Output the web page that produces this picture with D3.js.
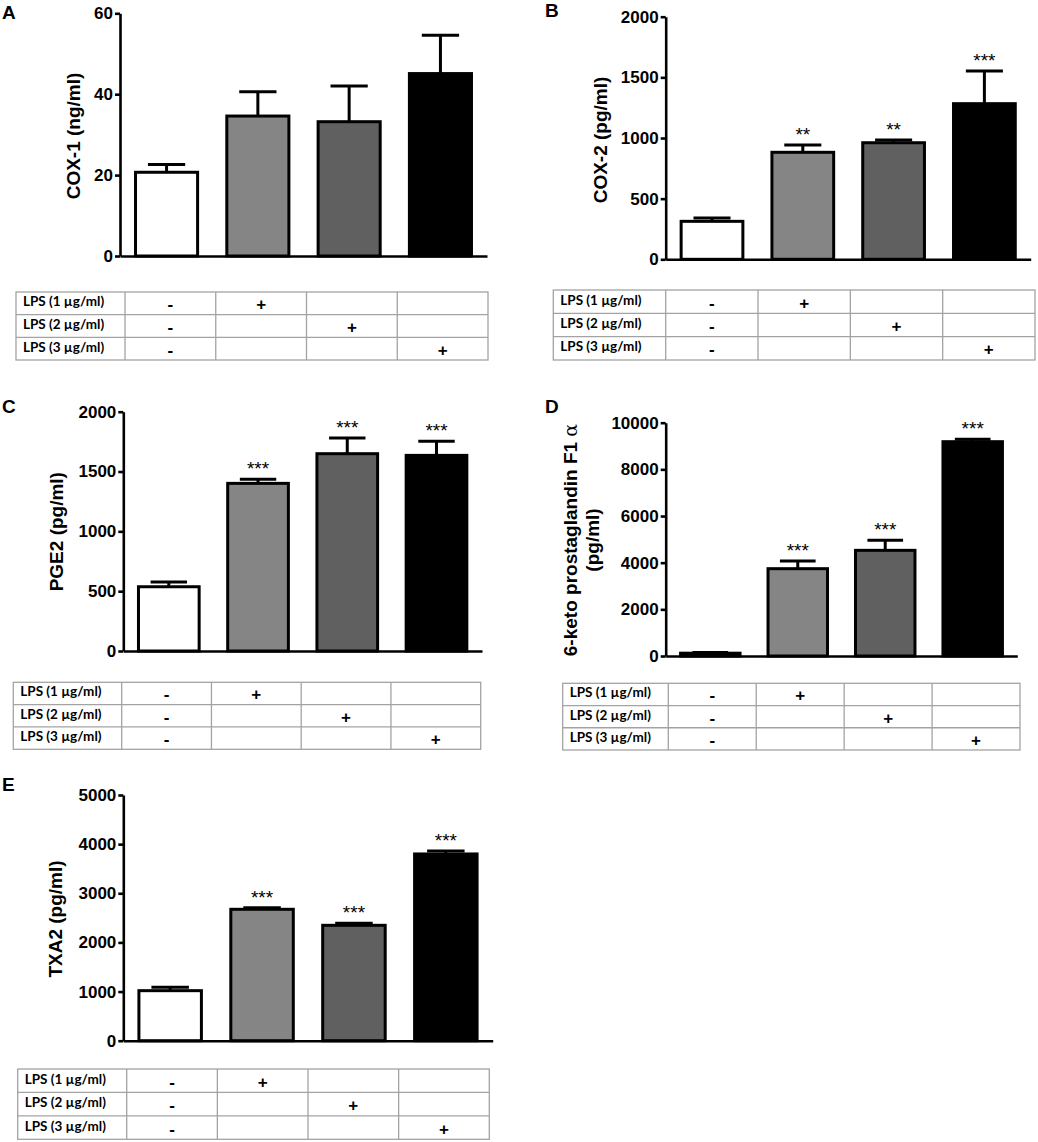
<!DOCTYPE html>
<html>
<head>
<meta charset="utf-8">
<script src="https://cdn.jsdelivr.net/npm/d3@7"></script>
<style>
  body { margin: 0; background: #fff; }
  svg { display: block; }
  .tick text { font-family: "Liberation Sans", Arial, sans-serif; font-weight: bold; font-size: 17px; fill: #000; }
</style>
</head>
<body>
<div id="chart"></div>
<script>
// groups along the x axis (one bar each)
const groups = ["ctrl", "lps1", "lps2", "lps3"];

// values (mean and upper error)
const cox1Mean = [20.7, 34.6, 33.2, 45.1];
const cox1Err = [1.9, 6.0, 8.8, 9.5];
const cox1Stars = ["", "", "", ""];
const cox1Ticks = [0, 20, 40, 60];

const cox2Mean = [313, 882, 961, 1283];
const cox2Err = [27, 60, 22, 269];
const cox2Stars = ["", "**", "**", "***"];
const cox2Ticks = [0, 500, 1000, 1500, 2000];

const pge2Mean = [537, 1401, 1649, 1635];
const pge2Err = [40, 34, 131, 117];
const pge2Stars = ["", "***", "***", "***"];
const pge2Ticks = [0, 500, 1000, 1500, 2000];

const ketoMean = [120, 3743, 4529, 9186];
const ketoErr = [25, 328, 428, 100];
const ketoStars = ["", "***", "***", "***"];
const ketoTicks = [0, 2000, 4000, 6000, 8000, 10000];

const txa2Mean = [1018, 2674, 2348, 3800];
const txa2Err = [68, 33, 41, 61];
const txa2Stars = ["", "***", "***", "***"];
const txa2Ticks = [0, 1000, 2000, 3000, 4000, 5000];

// treatment table under every panel
const rowLabels = ["LPS (1 \u00b5g/ml)", "LPS (2 \u00b5g/ml)", "LPS (3 \u00b5g/ml)"];
const tableSigns = [
  ["-", "+", "", ""],
  ["-", "", "+", ""],
  ["-", "", "", "+"]
];

const barFills = ["#ffffff", "#858585", "#606060", "#000000"];

// panel layout: axis box + table box, in page pixels
const panels = [
  {letter: "A", lx: 2, ly: 18.5, mean: cox1Mean, err: cox1Err, stars: cox1Stars, ticks: cox1Ticks,
   label: ["COX-1 (ng/ml)"], labX: 73, labY: 136,
   x0: 120, x1: 487, yTop: 13.3, yZero: 256,
   tLeft: 16, tCol: 125, tRight: 488, tTop: 292, tBottom: 360},
  {letter: "B", lx: 545, ly: 16.7, mean: cox2Mean, err: cox2Err, stars: cox2Stars, ticks: cox2Ticks,
   label: ["COX-2 (pg/ml)"], labX: 600, labY: 140,
   x0: 665.7, x1: 1030.7, yTop: 16.7, yZero: 259.3,
   tLeft: 553.3, tCol: 665.7, tRight: 1035, tTop: 290, tBottom: 360},
  {letter: "C", lx: 2, ly: 413, mean: pge2Mean, err: pge2Err, stars: pge2Stars, ticks: pge2Ticks,
   label: ["PGE2 (pg/ml)"], labX: 56.7, labY: 531.7,
   x0: 123.3, x1: 482, yTop: 411.7, yZero: 651,
   tLeft: 13.3, tCol: 121.7, tRight: 480.7, tTop: 682.3, tBottom: 749.3},
  {letter: "D", lx: 545, ly: 413, mean: ketoMean, err: ketoErr, stars: ketoStars, ticks: ketoTicks,
   label: ["6-keto prostaglandin F1 ", "(pg/ml)"], alpha: true, labX: 570, labY: 540,
   x0: 665.7, x1: 1017.3, yTop: 422.7, yZero: 656,
   tLeft: 562.7, tCol: 668.3, tRight: 1020, tTop: 683.3, tBottom: 750},
  {letter: "E", lx: 2, ly: 790.7, mean: txa2Mean, err: txa2Err, stars: txa2Stars, ticks: txa2Ticks,
   label: ["TXA2 (pg/ml)"], labX: 55, labY: 919,
   x0: 123.3, x1: 492.7, yTop: 795, yZero: 1040.7,
   tLeft: 17.7, tCol: 126.7, tRight: 489.3, tTop: 1069, tBottom: 1139.3}
];

const svg = d3.select("#chart").append("svg")
    .attr("width", 1038)
    .attr("height", 1142)

panels.forEach(function(p) {
  const g = svg.append("g")

  const x = d3.scaleBand()
      .domain(groups)
      .range([p.x0, p.x1])
      .paddingInner(0.32)
      .paddingOuter(0.17)

  const y = d3.scaleLinear()
      .domain([0, d3.max(p.ticks)])
      .range([p.yZero, p.yTop])

  // panel letter
  g.append("text")
      .attr("x", p.lx)
      .attr("y", p.ly)
      .style("font-family", "Liberation Sans, Arial, sans-serif")
      .style("font-weight", "bold")
      .style("font-size", "19px")
      .text(p.letter)

  // bars
  const rows = groups.map(function(k, i) {
    return {key: k, mean: p.mean[i], err: p.err[i], star: p.stars[i], fill: barFills[i]}
  })

  g.selectAll("rect.bar")
      .data(rows)
      .enter().append("rect")
      .attr("class", "bar")
      .attr("x", function(d) {return x(d.key)})
      .attr("width", x.bandwidth())
      .attr("y", function(d) {return y(d.mean)})
      .attr("height", function(d) {return y(0) - y(d.mean)})
      .style("fill", function(d) {return d.fill})
      .style("stroke", "#000")
      .style("stroke-width", 3)

  // upper error bars
  const cap = x.bandwidth() * 0.3
  const eb = g.selectAll("g.err")
      .data(rows)
      .enter().append("g")
      .attr("class", "err")
  eb.append("line")
      .attr("x1", function(d) {return x(d.key) + x.bandwidth() / 2})
      .attr("x2", function(d) {return x(d.key) + x.bandwidth() / 2})
      .attr("y1", function(d) {return y(d.mean)})
      .attr("y2", function(d) {return y(d.mean + d.err)})
      .style("stroke", "#000")
      .style("stroke-width", 3)
  eb.append("line")
      .attr("x1", function(d) {return x(d.key) + x.bandwidth() / 2 - cap})
      .attr("x2", function(d) {return x(d.key) + x.bandwidth() / 2 + cap})
      .attr("y1", function(d) {return y(d.mean + d.err)})
      .attr("y2", function(d) {return y(d.mean + d.err)})
      .style("stroke", "#000")
      .style("stroke-width", 3)

  // significance stars
  g.selectAll("text.star")
      .data(rows)
      .enter().append("text")
      .attr("class", "star")
      .attr("x", function(d) {return x(d.key) + x.bandwidth() / 2})
      .attr("y", function(d) {return y(d.mean + d.err) - 4})
      .attr("text-anchor", "middle")
      .style("font-family", "Liberation Sans, Arial, sans-serif")
      .style("font-size", "19px")
      .text(function(d) {return d.star})

  // axes
  const yAxis = g.append("g")
      .attr("transform", "translate(" + p.x0 + ",0)")
      .call(d3.axisLeft(y).tickValues(p.ticks).tickSize(5).tickSizeOuter(0).tickPadding(2).tickFormat(d3.format("d")))
  yAxis.selectAll("path, line").style("stroke", "#000").style("stroke-width", 2.6)

  const xAxis = g.append("g")
      .attr("transform", "translate(0," + p.yZero + ")")
      .call(d3.axisBottom(x).tickSize(0).tickSizeOuter(0).tickFormat(""))
  xAxis.selectAll("path").style("stroke", "#000").style("stroke-width", 2.6)

  // y label
  const lab = g.append("text")
      .attr("transform", "translate(" + p.labX + "," + p.labY + ") rotate(-90)")
      .attr("text-anchor", "middle")
      .style("font-family", "Liberation Sans, Arial, sans-serif")
      .style("font-weight", "bold")
      .style("font-size", "19px")
  lab.append("tspan")
      .attr("x", 0)
      .attr("dy", "0.35em")
      .text(p.label[0])
  if (p.alpha) {
    lab.select("tspan").append("tspan")
        .style("font-family", "DejaVu Serif, serif")
        .style("font-weight", "normal")
        .text("\u03b1")
  }
  if (p.label.length > 1) {
    lab.append("tspan")
        .attr("x", 0)
        .attr("dy", "1.2em")
        .text(p.label[1])
  }

  // treatment table
  const tbl = g.append("g")
  const rowY = d3.scaleBand()
      .domain(rowLabels)
      .range([p.tTop, p.tBottom])
  const colX = d3.scaleBand()
      .domain(groups)
      .range([p.tCol, p.tRight])

  tbl.append("rect")
      .attr("x", p.tLeft)
      .attr("y", p.tTop)
      .attr("width", p.tRight - p.tLeft)
      .attr("height", p.tBottom - p.tTop)
      .style("fill", "none")
      .style("stroke", "#a3a3a3")
      .style("stroke-width", 1.3)

  tbl.selectAll("line.hr")
      .data(rowLabels.slice(1))
      .enter().append("line")
      .attr("class", "hr")
      .attr("x1", p.tLeft)
      .attr("x2", p.tRight)
      .attr("y1", function(d) {return rowY(d)})
      .attr("y2", function(d) {return rowY(d)})
      .style("stroke", "#a3a3a3")
      .style("stroke-width", 1.3)

  tbl.selectAll("line.vr")
      .data(groups)
      .enter().append("line")
      .attr("class", "vr")
      .attr("x1", function(d) {return colX(d)})
      .attr("x2", function(d) {return colX(d)})
      .attr("y1", p.tTop)
      .attr("y2", p.tBottom)
      .style("stroke", "#a3a3a3")
      .style("stroke-width", 1.3)

  tbl.selectAll("text.rl")
      .data(rowLabels)
      .enter().append("text")
      .attr("class", "rl")
      .attr("x", p.tLeft + 7)
      .attr("y", function(d) {return rowY(d) + rowY.bandwidth() / 2 + 3})
      .style("font-family", "Lato, sans-serif")
      .style("font-weight", "bold")
      .style("font-size", "13.5px")
      .text(function(d) {return d})

  rowLabels.forEach(function(r, ri) {
    tbl.selectAll("text.s" + ri)
        .data(groups)
        .enter().append("text")
        .attr("class", "s" + ri)
        .attr("x", function(d) {return colX(d) + colX.bandwidth() / 2})
        .attr("y", function(d) {return rowY(r) + rowY.bandwidth() / 2 + 7})
        .attr("text-anchor", "middle")
        .style("font-family", "Liberation Sans, Arial, sans-serif")
        .style("font-weight", "bold")
        .style("font-size", "17px")
        .text(function(d, i) {return tableSigns[ri][i]})
  })
})
</script>
</body>
</html>
